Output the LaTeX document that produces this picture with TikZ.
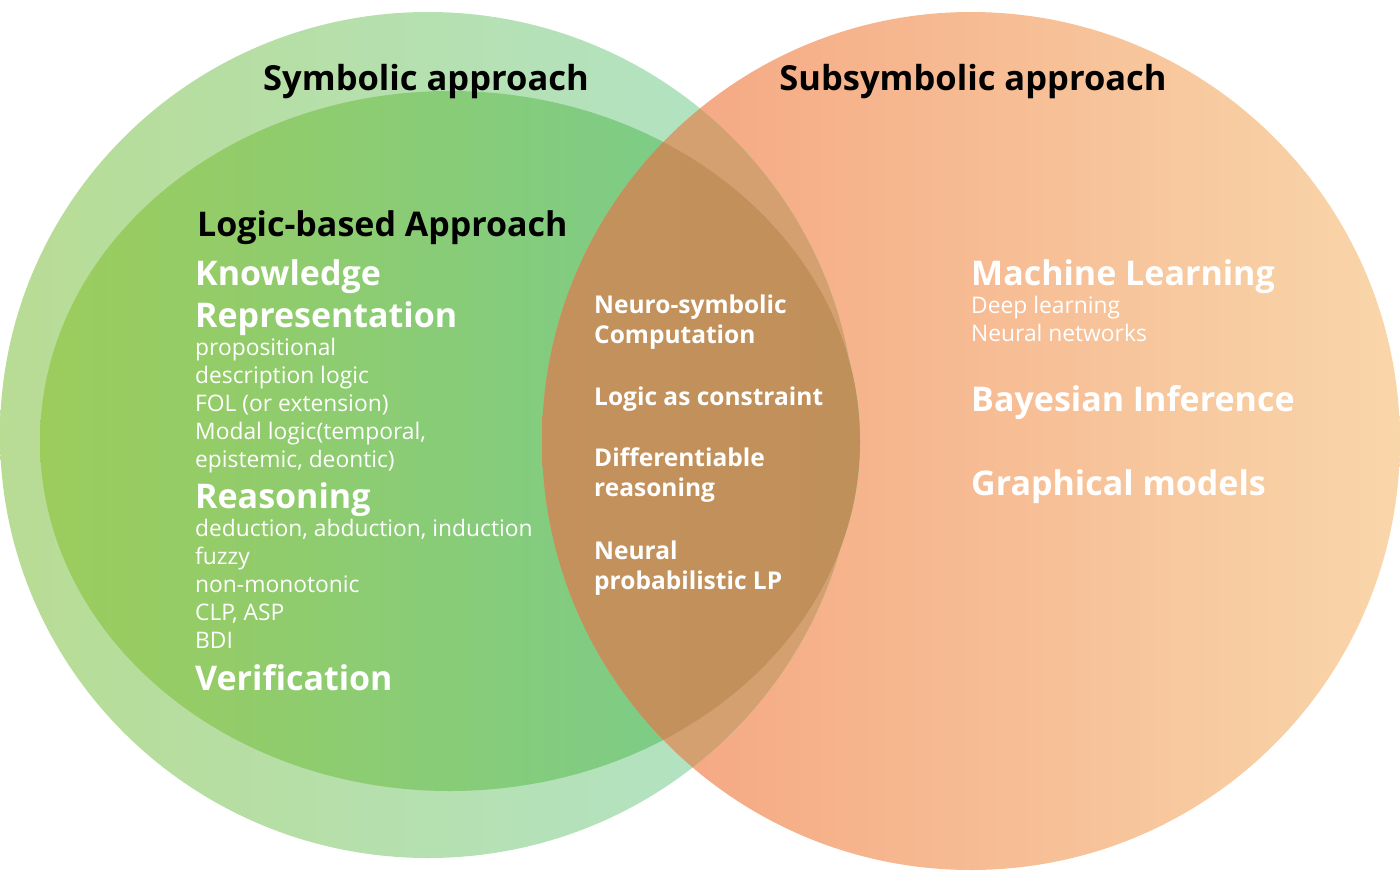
\documentclass[tikz,border=0pt]{standalone}
\usepackage{fontspec}
\setmainfont{Open Sans}
\begin{document}
\begin{tikzpicture}[x=1pt,y=-1pt,
  title/.style={anchor=base,font=\fontsize{34.5}{34.5}\selectfont\bfseries,text=black,inner sep=0},
  big/.style={anchor=base west,font=\fontsize{34}{34}\selectfont\bfseries,text=white,inner sep=0},
  mid/.style={anchor=base west,font=\fontsize{24.5}{24.5}\selectfont\bfseries,text=white,inner sep=0},
  small/.style={anchor=base west,font=\fontsize{22.8}{22.8}\selectfont,text=white,inner sep=0}]
\useasboundingbox (0,0) rectangle (1400,871);
\definecolor{gA}{HTML}{B8DC94}\definecolor{gB}{HTML}{B2E4CC}
\definecolor{gC}{HTML}{9CCC5C}\definecolor{gD}{HTML}{74CC94}
\definecolor{oA}{HTML}{F4A07C}\definecolor{oB}{HTML}{F9D6AA}
\definecolor{ov1}{HTML}{D4A070}\definecolor{ov2}{HTML}{C0905A}
% orange circle
\shade[left color=oA,right color=oB] (971,441) ellipse [x radius=429,y radius=429];
% green ellipses
\shade[left color=gA,right color=gB] (428,435) ellipse [x radius=428,y radius=423];
\shade[left color=gC,right color=gD] (450,441) ellipse [x radius=410,y radius=350];
\begin{scope}
\clip (971,441) ellipse [x radius=429,y radius=429];
\fill[ov1] (428,435) ellipse [x radius=428,y radius=423];
\shade[left color=ov2!80!oA,right color=ov2] (450,441) ellipse [x radius=410,y radius=350];
\end{scope}
% titles
\node[title] (t1) at (426,90) {Symbolic approach};
\node[title] (t2) at (973,90) {Subsymbolic approach};
\node[anchor=base west,font=\fontsize{34}{34}\selectfont\bfseries,inner sep=0] (lb) at (197,236) {Logic-based Approach};
% left
\node[big] (k1) at (195,285) {Knowledge};
\node[big] (k2) at (195,327) {Representation};
\node[small] (s1) at (195,355) {propositional};
\node[small] (s2) at (195,383) {description logic};
\node[small] (s3) at (195,411) {FOL (or extension)};
\node[small] (s4) at (195,439) {Modal logic(temporal,};
\node[small] (s5) at (195,467) {epistemic, deontic)};
\node[big] (r1) at (195,508) {Reasoning};
\node[small] (s6) at (195,536) {deduction, abduction, induction};
\node[small] (s7) at (195,564) {fuzzy};
\node[small] (s8) at (195,592) {non-monotonic};
\node[small] (s9) at (195,620) {CLP, ASP};
\node[small] (s10) at (195,648) {BDI};
\node[big] (v1) at (195,690) {Verification};
% middle
\node[mid] (m1) at (594,313) {Neuro-symbolic};
\node[mid] (m2) at (594,343) {Computation};
\node[mid] (m3) at (594,405) {Logic as constraint};
\node[mid] (m4) at (594,466) {Differentiable};
\node[mid] (m5) at (594,496) {reasoning};
\node[mid] (m6) at (594,559) {Neural};
\node[mid] (m7) at (594,589) {probabilistic LP};
% right
\node[big] (ml) at (971,285) {Machine Learning};
\node[small] (d1) at (971,313) {Deep learning};
\node[small] (d2) at (971,341) {Neural networks};
\node[big] (bi) at (971,411) {Bayesian Inference};
\node[big] (gm) at (971,495) {Graphical models};
\end{tikzpicture}
\end{document}
